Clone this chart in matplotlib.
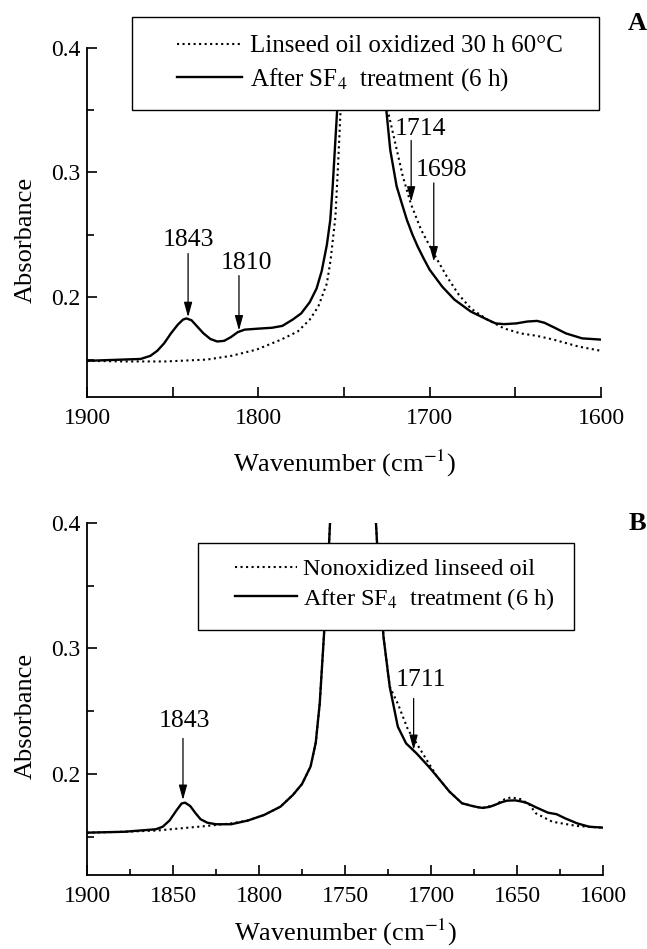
import matplotlib.pyplot as plt
from matplotlib.patches import Rectangle
from matplotlib.lines import Line2D
from matplotlib.ticker import FixedLocator, MultipleLocator

plt.rcParams['font.family'] = 'Liberation Serif'
plt.rcParams['mathtext.fontset'] = 'stix'

# ---- panel A: oxidized linseed oil ----
a_ox_x = [1900, 1878, 1854, 1830, 1815.7, 1801, 1786.7, 1777, 1770, 1765, 1760,
          1757.8, 1755, 1753.5, 1752, 1750.5, 1745, 1738, 1731, 1727, 1724,
          1720.5, 1715.7, 1711, 1705, 1697.6, 1690, 1683, 1676, 1666.3, 1656.6,
          1647, 1637.3, 1627.7, 1613.3, 1600]
a_ox_y = [0.149, 0.1485, 0.1485, 0.150, 0.153, 0.158, 0.166, 0.1725, 0.182,
          0.1925, 0.211, 0.230, 0.2646, 0.305, 0.35, 0.40, 0.50, 0.55, 0.50,
          0.40, 0.347, 0.326, 0.297, 0.275, 0.254, 0.235, 0.2166, 0.202, 0.191,
          0.182, 0.175, 0.171, 0.169, 0.166, 0.1605, 0.157]

a_sf4_x = [1900, 1868.7, 1863, 1859, 1855, 1851, 1847, 1844, 1842, 1839, 1836,
           1832, 1828, 1824, 1820, 1816, 1812, 1808, 1800, 1792, 1786, 1780,
           1775, 1770, 1766, 1763, 1760, 1758, 1756.6, 1754, 1752, 1746, 1738,
           1730, 1727, 1725.3, 1723, 1719.3, 1716, 1713.3, 1710, 1707, 1703.5,
           1700, 1692.7, 1685.5, 1676, 1666.3, 1661.5, 1656.6, 1649.4, 1643,
           1637.3, 1633, 1627, 1620.5, 1611, 1600]
a_sf4_y = [0.149, 0.1505, 0.153, 0.157, 0.163, 0.171, 0.178, 0.182, 0.183,
           0.1815, 0.177, 0.171, 0.1665, 0.1645, 0.165, 0.168, 0.172, 0.174,
           0.1748, 0.1755, 0.177, 0.182, 0.187, 0.196, 0.207, 0.221, 0.242,
           0.262, 0.289, 0.35, 0.40, 0.50, 0.55, 0.50, 0.40, 0.35, 0.318, 0.289,
           0.274, 0.262, 0.250, 0.2406, 0.231, 0.222, 0.2085, 0.198, 0.1885,
           0.182, 0.179, 0.1784, 0.179, 0.1805, 0.181, 0.1795, 0.1755, 0.171,
           0.167, 0.166]

# ---- panel B: nonoxidized linseed oil ----
b_raw_x = [1900, 1878.5, 1859.3, 1845, 1830.6, 1816, 1806.6, 1797, 1787.5,
           1780.3, 1775, 1770, 1767, 1764.7, 1762.3, 1760, 1758.7, 1754, 1745,
           1737, 1732, 1730.5, 1727.6, 1724, 1719.3, 1713.3, 1708.4, 1701.3,
           1696.5, 1689.3, 1682, 1672.5, 1670, 1663, 1657, 1653.4, 1648, 1643,
           1639, 1629.5, 1615, 1600]
b_raw_y = [0.1533, 0.154, 0.155, 0.1568, 0.1586, 0.1607, 0.1629, 0.1674, 0.174,
           0.1833, 0.192, 0.206, 0.225, 0.256, 0.309, 0.362, 0.40, 0.50, 0.55,
           0.50, 0.40, 0.362, 0.309, 0.2695, 0.256, 0.235, 0.2244, 0.2085,
           0.198, 0.186, 0.1767, 0.1735, 0.173, 0.1753, 0.180, 0.1814, 0.180,
           0.176, 0.1687, 0.162, 0.1586, 0.1573]

b_sf4_x = [1900, 1878.5, 1860, 1856, 1852, 1848, 1845, 1843, 1840, 1837, 1834,
           1830, 1825, 1816.2, 1806.6, 1797, 1787.5, 1780.3, 1775, 1770, 1767,
           1764.7, 1762.3, 1760, 1758.7, 1754, 1745, 1737, 1732, 1730.5, 1727.6,
           1724, 1719.3, 1714.5, 1708.4, 1701.3, 1696.5, 1689.3, 1682, 1676,
           1672.5, 1670, 1666, 1663, 1659, 1655.7, 1651, 1647, 1643.8, 1639,
           1632, 1627, 1622, 1615, 1608, 1600]
b_sf4_y = [0.1533, 0.154, 0.156, 0.158, 0.163, 0.171, 0.1765, 0.1772, 0.1745,
           0.169, 0.164, 0.1612, 0.160, 0.160, 0.1629, 0.1674, 0.174, 0.1833,
           0.192, 0.206, 0.225, 0.256, 0.309, 0.362, 0.40, 0.50, 0.55, 0.50,
           0.40, 0.362, 0.309, 0.2695, 0.2377, 0.2244, 0.2164, 0.2058, 0.198,
           0.186, 0.1767, 0.1745, 0.1735, 0.173, 0.1738, 0.1753, 0.1775, 0.1788,
           0.179, 0.178, 0.1767, 0.1735, 0.1692, 0.168, 0.1647, 0.1607, 0.158,
           0.1573]

# peak labels: text, arrow x, arrow tip y
a_marks = ["1843", "1810", "1714", "1698"]
a_mark_x = [1841, 1811.3, 1710.8, 1697.6]
a_mark_tip = [0.184, 0.1733, 0.2766, 0.2286]
b_marks = ["1843", "1711"]
b_mark_x = [1844.2, 1710.1]
b_mark_tip = [0.1793, 0.2191]

W, H = 647, 949
fig = plt.figure(figsize=(W / 100, H / 100), dpi=100)
axA = fig.add_axes([87 / W, 1 - 397 / H, 514 / W, 349.3 / H])
axB = fig.add_axes([87 / W, 1 - 874.5 / H, 516 / W, 351.8 / H])


def style(ax, minor_x, label_y):
    ax.set_xlim(1900, 1600)
    ax.set_ylim(0.12, 0.4)
    ax.spines['top'].set_visible(False)
    ax.spines['right'].set_visible(False)
    for s in ('left', 'bottom'):
        ax.spines[s].set_linewidth(1.3)
    ax.yaxis.set_major_locator(FixedLocator([0.2, 0.3, 0.4]))
    ax.yaxis.set_minor_locator(FixedLocator([0.15, 0.25, 0.35]))
    ax.set_yticklabels(["0.2", "0.3", "0.4"])
    ax.tick_params(which='both', direction='in', width=1.2, labelsize=17)
    ax.tick_params(axis='y', which='major', length=7, pad=5)
    ax.tick_params(axis='y', which='minor', length=5)
    ax.tick_params(axis='x', which='major', length=7, pad=8)
    ax.tick_params(axis='x', which='minor', length=minor_x)
    ax.set_xlabel("Wavenumber (cm$^{-1}$)", fontsize=19)
    ax.set_ylabel("Absorbance", fontsize=19)
    ax.yaxis.set_label_coords(-0.097, 0.45)
    ax.xaxis.set_label_coords(0.5, label_y)


style(axA, 7, -0.145)
axA.xaxis.set_major_locator(FixedLocator([1900, 1800, 1700, 1600]))
axA.xaxis.set_minor_locator(FixedLocator([1850, 1750, 1650]))
style(axB, 4, -0.122)
axB.xaxis.set_major_locator(MultipleLocator(50))
axB.xaxis.set_minor_locator(MultipleLocator(25))

axA.plot(a_ox_x, a_ox_y, ':', color='black', lw=1.5)
axA.plot(a_sf4_x, a_sf4_y, '-', color='black', lw=1.7)
axB.plot(b_raw_x, b_raw_y, ':', color='black', lw=1.5)
axB.plot(b_sf4_x, b_sf4_y, '-', color='black', lw=1.7)

arrow = dict(arrowstyle='-|>,head_length=0.9,head_width=0.25', color='black',
             lw=0.9, mutation_scale=10, shrinkA=0, shrinkB=0)
for ax, marks, mx, tip, dx, dy_txt, tail in [
        (axA, a_marks, a_mark_x, a_mark_tip,
         [0, 4.1, 5.5, 4.3], [0.062, 0.054, 0.058, 0.073],
         [0.051, 0.044, 0.049, 0.063]),
        (axB, b_marks, b_mark_x, b_mark_tip,
         [0.9, 4.0], [0.063, 0.056], [0.049, 0.041])]:
    for lab, x, y, d, ty, tl in zip(marks, mx, tip, dx, dy_txt, tail):
        ax.annotate('', xy=(x, y), xytext=(x, y + tl), arrowprops=arrow)
        ax.text(x - d, y + ty, lab, ha='center', va='center', fontsize=18.5)

# legend boxes (figure level so curves in A pass behind them)
for x0, y0, x1, y1 in [(132, 17, 599, 110), (198, 543, 574, 630)]:
    fig.add_artist(Rectangle((x0 / W, 1 - y1 / H), (x1 - x0) / W, (y1 - y0) / H,
                             transform=fig.transFigure, facecolor='white',
                             edgecolor='black', lw=1.0, zorder=3))

dot = Line2D([], [], ls=':', color='black', lw=1.5)
sol = Line2D([], [], ls='-', color='black', lw=1.7)
legA = fig.legend([dot, sol], ["Linseed oil oxidized 30 h 60\u00b0C",
                               "After SF$_4$  treatment (6 h)"],
                  loc='center left', bbox_to_anchor=(177 / W, 1 - 64 / H),
                  frameon=False, borderpad=0, borderaxespad=0, fontsize=18,
                  handlelength=2.6, handletextpad=0.32, labelspacing=0.35)
legA.set_zorder(5)
legB = fig.legend([dot, sol], ["Nonoxidized linseed oil",
                               "After SF$_4$  treatment (6 h)"],
                  loc='center left', bbox_to_anchor=(235 / W, 1 - 585 / H),
                  frameon=False, borderpad=0, borderaxespad=0, fontsize=17.5,
                  handlelength=2.55, handletextpad=0.25, labelspacing=0.22)
legB.set_zorder(5)

fig.text(637 / W, 1 - 24 / H, "A", ha='center', va='center', fontsize=19,
         fontweight='bold')
fig.text(637 / W, 1 - 524 / H, "B", ha='center', va='center', fontsize=19,
         fontweight='bold')

fig.savefig("out.png", dpi=100)
